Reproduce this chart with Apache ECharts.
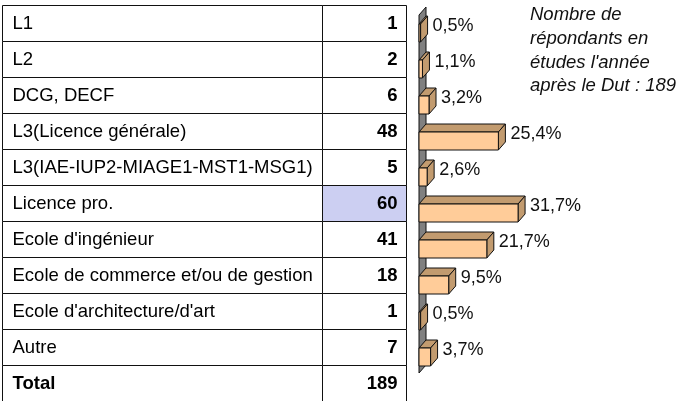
<!DOCTYPE html>
<html><head><meta charset="utf-8">
<script src="https://cdn.jsdelivr.net/npm/echarts@6/dist/echarts.min.js"></script>
<style>html,body{margin:0;padding:0;background:#fff}#c{width:678px;height:401px}</style>
</head><body><div id="c"></div>
<script>
// ---- data ----
const categories = ["L1","L2","DCG, DECF","L3(Licence générale)","L3(IAE-IUP2-MIAGE1-MST1-MSG1)","Licence pro.","Ecole d'ingénieur","Ecole de commerce et/ou de gestion","Ecole d'architecture/d'art","Autre"];
const counts = [1,2,6,48,5,60,41,18,1,7];
const totalLabel = "Total";
const totalCount = 189;
const percents = [0.5,1.1,3.2,25.4,2.6,31.7,21.7,9.5,0.5,3.7];
const highlightIndex = 5;
const noteLines = ["Nombre de","répondants en","études l'année","après le Dut : 189"];

// ---- derived ----
const tableRows = categories.concat([totalLabel]);
const tableCounts = counts.concat([totalCount]);
const FONT = "'Liberation Sans', Arial, sans-serif";
const FS = 18.5;
const LFS = 18;
const DX = 7, DY = 8;
const FRONT = '#FFCC99', SIDE = '#C29B6F', EDGE = '#111';

function fmtPct(v){ return v.toFixed(1).replace('.', ',') + '%'; }
const px = v => Math.round(v) + 0.5;

const chart = echarts.init(document.getElementById('c'), null, {renderer:'canvas'});
chart.setOption({
  animation: false,
  grid: [
    {left: 419, top: 15, width: 250, height: 360},
    {left: 2, top: 5, width: 404, height: 396}
  ],
  xAxis: [
    {gridIndex: 0, type: 'value', min: 0, max: 80, show: false},
    {gridIndex: 1, type: 'value', min: 0, max: 1, show: false}
  ],
  yAxis: [
    {gridIndex: 0, type: 'category', data: categories, inverse: true, show: false},
    {gridIndex: 1, type: 'category', data: tableRows, inverse: true, show: false}
  ],
  graphic: [{
    type: 'text', left: 530, top: 3,
    style: {text: noteLines.join('\n'), font: 'italic ' + FS + 'px ' + FONT, fill: '#111', lineHeight: 23.8}
  }],
  series: [
    {
      type: 'custom', xAxisIndex: 1, yAxisIndex: 1,
      data: tableRows.map((n, i) => [0, i, tableCounts[i]]),
      renderItem: function(params, api){
        const i = api.value(1);
        const cs = params.coordSys;
        const c = api.coord([0, i]);
        const bh = api.size([0, 1])[1];
        const y0 = px(c[1] - bh/2), y1 = px(c[1] + bh/2);
        const x0 = px(cs.x), xs = px(cs.x + cs.width * 0.792), x1 = px(cs.x + cs.width);
        const bold = (i === tableRows.length - 1);
        const cy = c[1] + 1;
        return {type: 'group', children: [
          {type: 'rect', shape: {x: x0, y: y0, width: xs - x0, height: y1 - y0}, style: {fill: '#fff', stroke: EDGE, lineWidth: 1}},
          {type: 'rect', shape: {x: xs, y: y0, width: x1 - xs, height: y1 - y0}, style: {fill: i === highlightIndex ? '#CCCFF2' : '#fff', stroke: EDGE, lineWidth: 1}},
          {type: 'text', style: {x: x0 + 10, y: cy, text: tableRows[i], font: (bold ? 'bold ' : '') + FS + 'px ' + FONT, fill: '#000', verticalAlign: 'middle', align: 'left'}},
          {type: 'text', style: {x: x1 - 9, y: cy, text: String(api.value(2)), font: 'bold ' + FS + 'px ' + FONT, fill: '#000', verticalAlign: 'middle', align: 'right'}}
        ]};
      }
    },
    {
      type: 'custom', xAxisIndex: 0, yAxisIndex: 0,
      data: [[0, 0]],
      renderItem: function(params, api){
        const cs = params.coordSys;
        const x = cs.x, t = cs.y, b = cs.y + cs.height - 2;
        return {type: 'polygon', shape: {points: [[x, t], [x + DX, t - DY], [x + DX, b - DY], [x, b]]},
          style: {fill: '#808080', stroke: EDGE, lineWidth: 1}};
      }
    },
    {
      type: 'custom', xAxisIndex: 0, yAxisIndex: 0,
      data: percents.map((v, i) => [v, i]),
      renderItem: function(params, api){
        const v = api.value(0), i = api.value(1);
        const p0 = api.coord([0, i]), p1 = api.coord([v, i]);
        const h = api.size([0, 1])[1] * 0.5;
        const xa = p0[0], xb = p1[0];
        const yt = p1[1] - h/2, yb = p1[1] + h/2;
        const st = {stroke: EDGE, lineWidth: 1};
        return {type: 'group', children: [
          {type: 'polygon', shape: {points: [[xa, yt], [xb, yt], [xb + DX, yt - DY], [xa + DX, yt - DY]]}, style: Object.assign({fill: SIDE}, st)},
          {type: 'polygon', shape: {points: [[xb, yt], [xb + DX, yt - DY], [xb + DX, yb - DY], [xb, yb]]}, style: Object.assign({fill: SIDE}, st)},
          {type: 'rect', shape: {x: xa, y: yt, width: xb - xa, height: h}, style: Object.assign({fill: FRONT}, st)},
          {type: 'text', style: {x: xb + DX + 5, y: p1[1] - DY + 1, text: fmtPct(v), font: LFS + 'px ' + FONT, fill: '#111', verticalAlign: 'middle', align: 'left'}}
        ]};
      }
    }
  ]
});
</script></body></html>
